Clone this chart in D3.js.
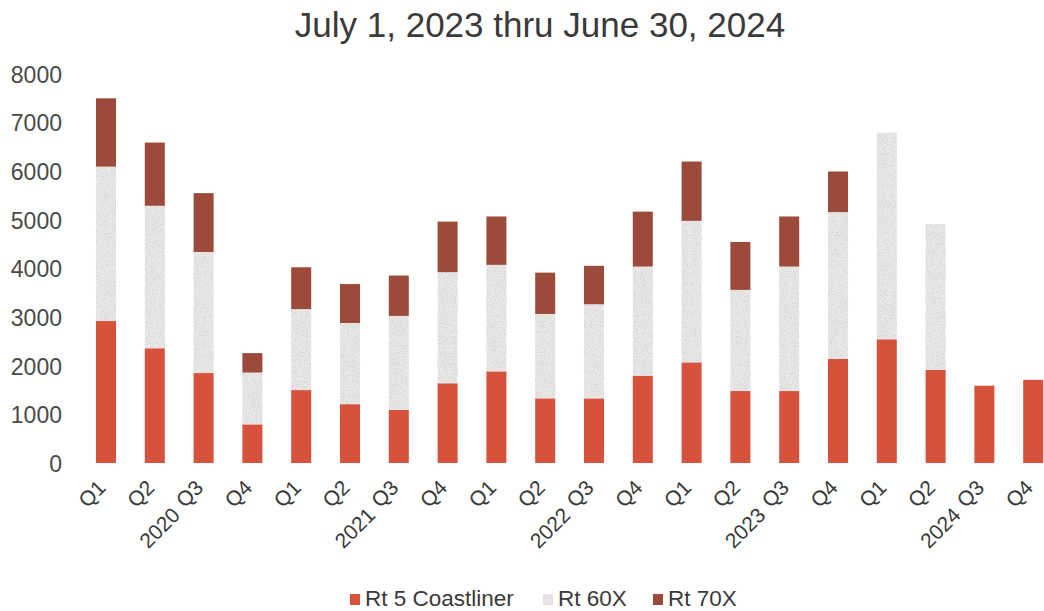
<!DOCTYPE html>
<html>
<head>
<meta charset="utf-8">
<script src="https://cdn.jsdelivr.net/npm/d3@7/dist/d3.min.js"></script>
<style>
  html, body { margin: 0; padding: 0; background: #fff; }
  svg { display: block; font-family: "Liberation Sans", Arial, sans-serif; }
</style>
</head>
<body>
<svg id="chart" width="1044" height="611"></svg>
<script>
// Quarterly ridership by route
const years    = ["2020","2020","2020","2020","2021","2021","2021","2021","2022","2022","2022","2022","2023","2023","2023","2023","2024","2024","2024","2024"];
const quarters = ["Q1","Q2","Q3","Q4","Q1","Q2","Q3","Q4","Q1","Q2","Q3","Q4","Q1","Q2","Q3","Q4","Q1","Q2","Q3","Q4"];
const rt5   = [2920, 2360, 1850, 795, 1500, 1210, 1090, 1640, 1885, 1330, 1330, 1795, 2070, 1480, 1480, 2140, 2545, 1915, 1590, 1710];
const rt60x = [3175, 2930, 2490, 1065, 1665, 1670, 1935, 2285, 2190, 1735, 1935, 2245, 2910, 2080, 2560, 3020, 4250, 3000, 0, 0];
const rt70x = [1405, 1300, 1210, 400, 860, 800, 830, 1040, 995, 850, 790, 1130, 1220, 985, 1030, 835, 0, 0, 0, 0];
const seriesNames = ["Rt 5 Coastliner", "Rt 60X", "Rt 70X"];
const yTicks = [0, 1000, 2000, 3000, 4000, 5000, 6000, 7000, 8000];
const title = "July 1, 2023 thru June 30, 2024";

const colors = ["#d6523c", "#e8e8e8", "#9c4b3a"];
const keys = ["rt5", "rt60x", "rt70x"];

const rows = quarters.map((q, i) => ({ idx: i, year: years[i], q, rt5: rt5[i], rt60x: rt60x[i], rt70x: rt70x[i] }));
const stacked = d3.stack().keys(keys)(rows);

const svg = d3.select("#chart");

// stipple texture for the light series
const defs = svg.append("defs");
const f = defs.append("filter").attr("id", "stipple").attr("x", 0).attr("y", 0).attr("width", 1).attr("height", 1);
f.append("feTurbulence").attr("type", "fractalNoise").attr("baseFrequency", 0.9).attr("numOctaves", 2).attr("seed", 3).attr("result", "noise");
f.append("feColorMatrix").attr("in", "noise").attr("type", "matrix")
  .attr("values", "0 0 0 0 0.6  0 0 0 0 0.6  0 0 0 0 0.6  0 0 0 -2.4 1.3").attr("result", "dots");
f.append("feComposite").attr("in", "dots").attr("in2", "SourceGraphic").attr("operator", "in").attr("result", "dotsIn");
f.append("feMerge").call(m => { m.append("feMergeNode").attr("in", "SourceGraphic"); m.append("feMergeNode").attr("in", "dotsIn"); });

const x = d3.scaleBand().domain(rows.map(d => d.idx)).range([81.6, 1057.6]).paddingInner(0.59).paddingOuter(0.295);
const y = d3.scaleLinear().domain([0, 8000]).range([463, 74]);

// title
svg.append("text")
  .attr("x", 540).attr("y", 37)
  .attr("text-anchor", "middle")
  .attr("font-size", 35)
  .attr("fill", "#3a3a3a")
  .text(title);

// y axis labels (no axis line or gridlines)
const yAxis = d3.axisLeft(y).tickValues(yTicks).tickSize(0).tickPadding(0).tickFormat(d3.format("d"));
const gy = svg.append("g").attr("transform", "translate(62,0)").call(yAxis);
gy.select(".domain").remove();
gy.selectAll("text").attr("font-size", 23).attr("fill", "#4a4a4a").attr("font-family", "Liberation Sans, Arial, sans-serif").attr("dy", "0.36em");

// bars
const layers = svg.append("g").selectAll("g").data(stacked).join("g")
  .attr("fill", (d, i) => colors[i])
  .attr("filter", (d, i) => i === 1 ? "url(#stipple)" : null);
layers.selectAll("rect").data(d => d.filter(s => s[1] - s[0] > 0)).join("rect")
  .attr("x", d => x(d.data.idx))
  .attr("width", x.bandwidth())
  .attr("y", d => y(d[1]))
  .attr("height", d => y(d[0]) - y(d[1]));

// category labels, rotated; the year label sits just below the third quarter
const xl = svg.append("g").attr("font-size", 21).attr("fill", "#3a3a3a");
rows.forEach(d => {
  const cx = x(d.idx) + x.bandwidth() / 2;
  const g = xl.append("g").attr("transform", `translate(${cx + 1},489) rotate(-45)`);
  g.append("text").attr("text-anchor", "end").text(d.q);
  if (d.q === "Q3") {
    g.append("text").attr("text-anchor", "end").attr("x", -36).attr("y", 3).text(d.year);
  }
});

// legend
const legendItems = [
  { name: seriesNames[0], color: colors[0], sx: 350 },
  { name: seriesNames[1], color: colors[1], sx: 543 },
  { name: seriesNames[2], color: colors[2], sx: 653 }
];
const lg = svg.append("g");
legendItems.forEach((it, i) => {
  lg.append("rect").attr("x", it.sx).attr("y", 594).attr("width", 10).attr("height", 11)
    .attr("fill", it.color).attr("filter", i === 1 ? "url(#stipple)" : null);
  lg.append("text").attr("x", it.sx + 15).attr("y", 606)
    .attr("font-size", 22.5).attr("fill", "#3a3a3a").text(it.name);
});
</script>
</body>
</html>
